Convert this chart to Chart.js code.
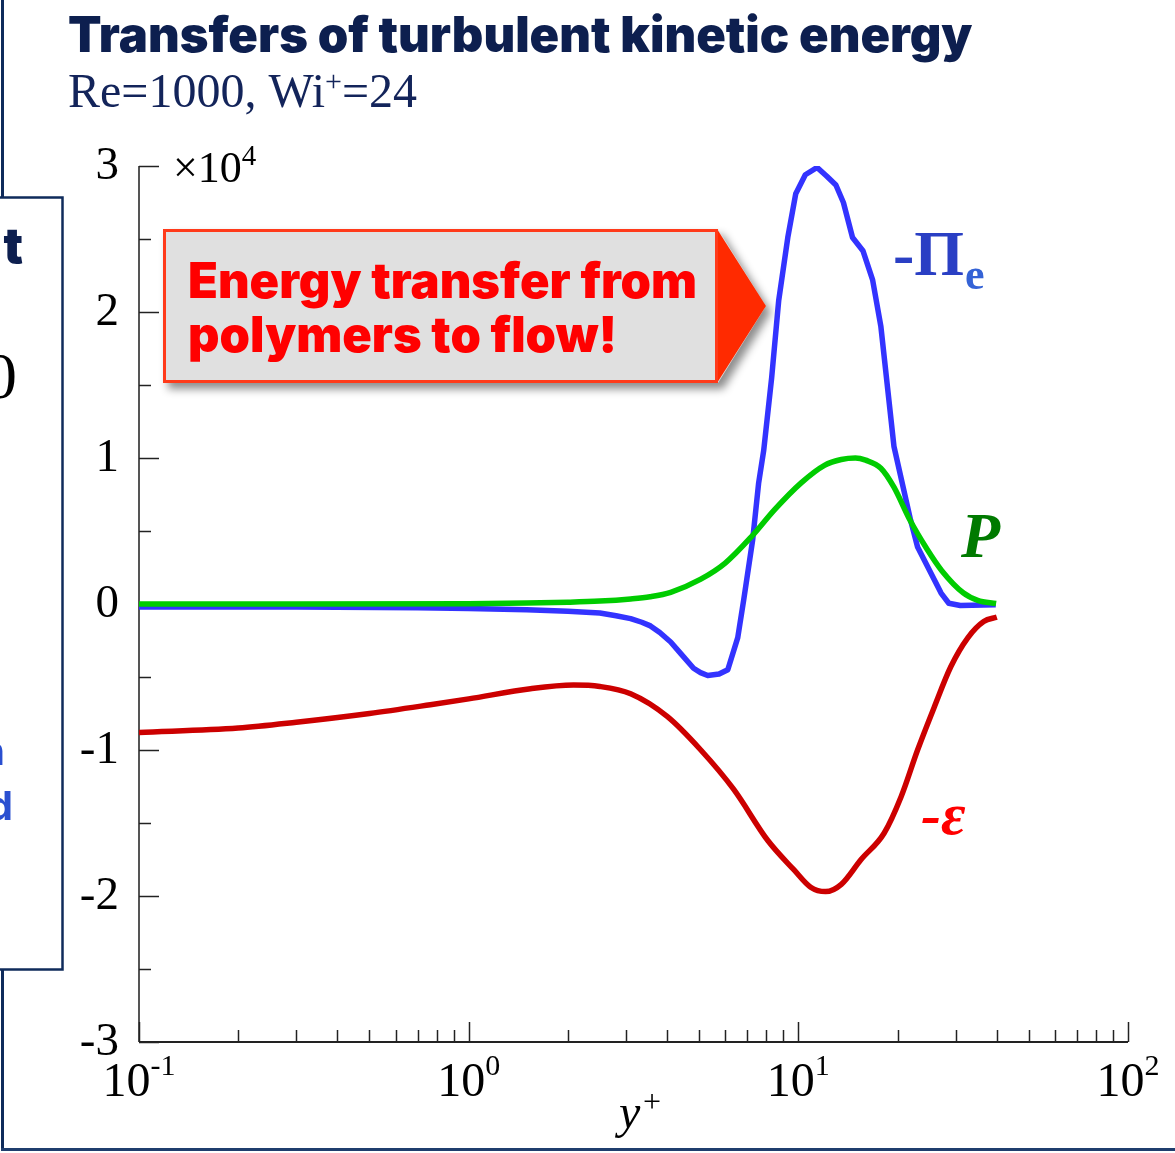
<!DOCTYPE html>
<html>
<head>
<meta charset="utf-8">
<title>Transfers of turbulent kinetic energy</title>
<script src="https://cdn.jsdelivr.net/npm/chart.js@4.4.1/dist/chart.umd.min.js"></script>
<style>
  html, body { margin: 0; padding: 0; background: #ffffff; }
  #wrap { position: relative; width: 1175px; height: 1153px; overflow: hidden; }
  canvas { display: block; }
</style>
</head>
<body>
<div id="wrap"><canvas id="c" width="1175" height="1153"></canvas></div>
<script>
// Budget terms of turbulent kinetic energy vs. wall distance y+ (values in units of 10^4)

// -Pi_e : polymer (elastic) contribution
const piYplus = [0.1, 0.3, 0.7, 1.0, 1.5, 2.0, 2.5, 2.8, 3.1, 3.35, 3.56, 3.8, 4.1, 4.4, 4.81, 5.05, 5.31, 5.75, 6.11, 6.55, 6.83,
                 7.27, 7.58, 7.85, 8.3, 8.72, 9.29, 9.82, 10.5, 11.4, 12.2, 13.0, 13.7, 14.6, 15.7, 16.8, 17.8,
                 19.5, 21.9, 23.0, 27.1, 28.6, 31.0, 39.7];
const piValues = [-0.02, -0.02, -0.025, -0.03, -0.04, -0.05, -0.062, -0.08, -0.10, -0.125, -0.15, -0.195, -0.26, -0.34, -0.44, -0.47, -0.49, -0.48, -0.45, -0.23, 0.03,
                  0.44, 0.83, 1.05, 1.55, 2.08, 2.51, 2.81, 2.94, 2.99, 2.93, 2.87, 2.75, 2.51, 2.42, 2.22, 1.90,
                  1.08, 0.575, 0.39, 0.075, 0.005, -0.01, -0.005];

// P : production
const prodYplus = [0.1, 0.3, 1.0, 1.5, 2.0, 2.5, 3.1, 3.55, 4.1, 5.06, 6.0, 7.2, 8.5, 10.2, 12.0, 13.5, 14.9, 16.0,
                   17.8, 19.5, 21.8, 24.5, 27.2, 31.7, 35.0, 39.8];
const prodValues = [0.0, 0.0, 0.002, 0.006, 0.012, 0.02, 0.035, 0.05, 0.08, 0.17, 0.28, 0.46, 0.65, 0.83, 0.95, 0.99, 1.0, 0.985,
                    0.93, 0.80, 0.575, 0.38, 0.23, 0.075, 0.025, 0.003];

// -epsilon : dissipation
const epsYplus = [0.1, 0.2, 0.3, 0.5, 0.765, 1.0, 1.54, 2.08, 2.5, 3.1, 4.0, 5.06, 6.37, 8.08, 9.69, 10.9, 12.1, 13.5,
                  15.5, 18.2, 20.5, 23.0, 25.8, 29.0, 32.7, 36.5, 40.0];
const epsValues = [-0.88, -0.85, -0.81, -0.75, -0.69, -0.65, -0.58, -0.555, -0.565, -0.615, -0.77, -1.0, -1.27, -1.62, -1.82, -1.94, -1.97, -1.92,
                   -1.75, -1.57, -1.32, -1.0, -0.71, -0.43, -0.23, -0.12, -0.09];

// axis ticks
const yTickValues = [-3, -2, -1, 0, 1, 2, 3];
const yTickLabels = ['-3', '-2', '-1', '0', '1', '2', '3'];
const xTickValues = [0.1, 1, 10, 100];
const xTickExponents = ['-1', '0', '1', '2'];

const toPoints = (xs, ys) => xs.map((x, i) => ({ x: x, y: ys[i] }));

const SERIF = '"Liberation Serif", "Times New Roman", serif';
const HEAVY = 'Inter, Lato, "Open Sans", sans-serif';

function fitSize(ctx, text, weight, family, width) {
  ctx.font = weight + ' 100px ' + family;
  return 100 * width / ctx.measureText(text).width;
}

const decor = {
  id: 'decor',
  beforeDatasetsDraw(chart) {
    const ctx = chart.ctx;
    const xs = chart.scales.x, ys = chart.scales.y;
    const left = chart.chartArea.left, bottom = chart.chartArea.bottom;
    const top = chart.chartArea.top, right = chart.chartArea.right;
    ctx.save();
    // axis lines
    ctx.strokeStyle = '#555555';
    ctx.lineWidth = 2;
    ctx.beginPath(); ctx.moveTo(left, top); ctx.lineTo(left, bottom); ctx.stroke();
    ctx.strokeStyle = '#222222';
    ctx.beginPath(); ctx.moveTo(left, bottom); ctx.lineTo(right, bottom); ctx.stroke();
    // y ticks (inward)
    ctx.strokeStyle = '#222222';
    ctx.lineWidth = 1.5;
    for (let v = -3; v <= 3; v += 0.5) {
      const py = Math.round(ys.getPixelForValue(v)) + 0.5;
      const len = Number.isInteger(v) ? 20 : 12;
      ctx.beginPath(); ctx.moveTo(left, py); ctx.lineTo(left + len, py); ctx.stroke();
    }
    // x ticks (inward), log decades with minor ticks
    for (let d = -1; d <= 2; d++) {
      for (let k = 1; k <= 9; k++) {
        const v = k * Math.pow(10, d);
        if (v > 100.0001) break;
        const px = Math.round(xs.getPixelForValue(v)) + 0.5;
        const len = k === 1 ? 20 : 12;
        ctx.beginPath(); ctx.moveTo(px, bottom); ctx.lineTo(px, bottom - len); ctx.stroke();
      }
    }
    ctx.restore();
  },
  afterDraw(chart) {
    const ctx = chart.ctx;
    const xs = chart.scales.x, ys = chart.scales.y;
    ctx.save();

    // y tick labels
    ctx.fillStyle = '#000000';
    ctx.font = '47px ' + SERIF;
    ctx.textAlign = 'right';
    ctx.textBaseline = 'middle';
    yTickValues.forEach((v, i) => {
      ctx.fillText(yTickLabels[i], 119, ys.getPixelForValue(v) + 1);
    });

    // x tick labels: 10^n
    ctx.textAlign = 'left';
    ctx.textBaseline = 'alphabetic';
    xTickValues.forEach((v, i) => {
      ctx.font = '48px ' + SERIF;
      const wBase = ctx.measureText('10').width;
      ctx.font = '30px ' + SERIF;
      const wExp = ctx.measureText(xTickExponents[i]).width;
      const x0 = xs.getPixelForValue(v) - (wBase + wExp) / 2;
      ctx.font = '48px ' + SERIF;
      ctx.fillText('10', x0, 1096);
      ctx.font = '30px ' + SERIF;
      ctx.fillText(xTickExponents[i], x0 + wBase, 1075);
    });

    // x axis title y+
    ctx.font = 'italic 48px ' + SERIF;
    ctx.fillText('y', 619, 1128);
    ctx.font = '32px ' + SERIF;
    ctx.fillText('+', 643, 1112);

    // y multiplier x10^4
    ctx.font = '44px ' + SERIF;
    ctx.fillText('\u00d710', 173, 182);
    const wm = ctx.measureText('\u00d710').width;
    ctx.font = '29px ' + SERIF;
    ctx.fillText('4', 173 + wm, 165);

    // series labels
    ctx.fillStyle = '#2a3fc4';
    ctx.font = 'bold 64px ' + SERIF;
    ctx.fillText('-\u03a0', 893, 275);
    const wPi = ctx.measureText('-\u03a0').width;
    ctx.fillStyle = '#3563d6';
    ctx.font = 'bold 44px ' + SERIF;
    ctx.fillText('e', 893 + wPi + 1, 289);

    ctx.fillStyle = '#007a00';
    ctx.font = 'italic bold 64px ' + SERIF;
    ctx.fillText('P', 961, 557);

    ctx.fillStyle = '#ff0000';
    ctx.font = 'italic bold 60px ' + SERIF;
    ctx.fillText('-\u03b5', 921, 834);

    // title and subtitle
    ctx.fillStyle = '#0d1f4f';
    const tTitle = 'Transfers of turbulent kinetic energy';
    const sTitle = fitSize(ctx, tTitle, '900', HEAVY, 904);
    ctx.font = '900 ' + sTitle.toFixed(1) + 'px ' + HEAVY;
    ctx.fillText(tTitle, 68, 52);

    ctx.fillStyle = '#13245a';
    ctx.font = '48px ' + SERIF;
    ctx.fillText('Re=1000, Wi', 68, 107);
    let wx = 68 + ctx.measureText('Re=1000, Wi').width;
    ctx.font = '30px ' + SERIF;
    ctx.fillText('+', wx, 91);
    wx += ctx.measureText('+').width;
    ctx.font = '48px ' + SERIF;
    ctx.fillText('=24', wx, 107);

    // callout box with arrow
    const bx = 163, by = 229, bw = 555, bh = 154, tipX = 766;
    ctx.save();
    ctx.shadowColor = 'rgba(0,0,0,0.45)';
    ctx.shadowBlur = 8;
    ctx.shadowOffsetX = 5;
    ctx.shadowOffsetY = 6;
    ctx.fillStyle = '#e0e0e0';
    ctx.beginPath();
    ctx.moveTo(bx, by); ctx.lineTo(bx + bw, by); ctx.lineTo(tipX, by + bh / 2);
    ctx.lineTo(bx + bw, by + bh); ctx.lineTo(bx, by + bh); ctx.closePath();
    ctx.fill();
    ctx.restore();
    ctx.fillStyle = '#ff2a00';
    ctx.beginPath();
    ctx.moveTo(bx + bw - 1, by); ctx.lineTo(tipX, by + bh / 2); ctx.lineTo(bx + bw - 1, by + bh); ctx.closePath();
    ctx.fill();
    ctx.strokeStyle = '#ff3a1a';
    ctx.lineWidth = 3;
    ctx.strokeRect(bx + 1.5, by + 1.5, bw - 3, bh - 3);

    ctx.fillStyle = '#ff0000';
    const c1 = 'Energy transfer from';
    const sC = fitSize(ctx, c1, '900', HEAVY, 509);
    ctx.font = '900 ' + sC.toFixed(1) + 'px ' + HEAVY;
    ctx.fillText(c1, 188, 298);
    ctx.fillText('polymers to flow!', 188, 352);

    // neighbouring slide frame on the left
    ctx.strokeStyle = '#0f2b5b';
    ctx.lineWidth = 3;
    ctx.beginPath(); ctx.moveTo(2.5, 0); ctx.lineTo(2.5, 1149.5); ctx.stroke();
    ctx.strokeStyle = '#1f3d6d';
    ctx.beginPath(); ctx.moveTo(1, 1149.5); ctx.lineTo(1175, 1149.5); ctx.stroke();
    ctx.fillStyle = '#ffffff';
    ctx.fillRect(0, 197, 63, 773);
    ctx.strokeStyle = '#0f2b5b';
    ctx.lineWidth = 2.5;
    ctx.strokeRect(-5, 197.5, 67.5, 772);

    ctx.textAlign = 'right';
    ctx.fillStyle = '#0d1f4f';
    ctx.font = '900 ' + sTitle.toFixed(1) + 'px ' + HEAVY;
    ctx.fillText('t', 23, 263);
    ctx.fillStyle = '#000000';
    ctx.font = '66px ' + SERIF;
    ctx.fillText('0', 17, 398);
    ctx.fillStyle = '#2a4fd0';
    ctx.font = 'bold 40px ' + HEAVY;
    ctx.fillText('n', 5, 765);
    ctx.fillText('d', 13, 820);

    ctx.restore();
  }
};

new Chart(document.getElementById('c'), {
  type: 'line',
  data: {
    datasets: [
      { label: '-\u03a0e', data: toPoints(piYplus, piValues), borderColor: '#3333ff', borderWidth: 5.5, tension: 0, order: 3 },
      { label: 'P', data: toPoints(prodYplus, prodValues), borderColor: '#00cc00', borderWidth: 5.5, cubicInterpolationMode: 'monotone', order: 1 },
      { label: '-\u03b5', data: toPoints(epsYplus, epsValues), borderColor: '#cc0000', borderWidth: 5.5, cubicInterpolationMode: 'monotone', order: 2 }
    ]
  },
  options: {
    responsive: false,
    animation: false,
    devicePixelRatio: 1,
    layout: { padding: { left: 139, top: 166, right: 47, bottom: 111 } },
    elements: { point: { radius: 0 }, line: { borderJoinStyle: 'round', borderCapStyle: 'butt' } },
    plugins: { legend: { display: false }, tooltip: { enabled: false } },
    scales: {
      x: { type: 'logarithmic', min: 0.1, max: 100, display: false },
      y: { type: 'linear', min: -3, max: 3, display: false }
    }
  },
  plugins: [decor]
});
</script>
</body>
</html>
